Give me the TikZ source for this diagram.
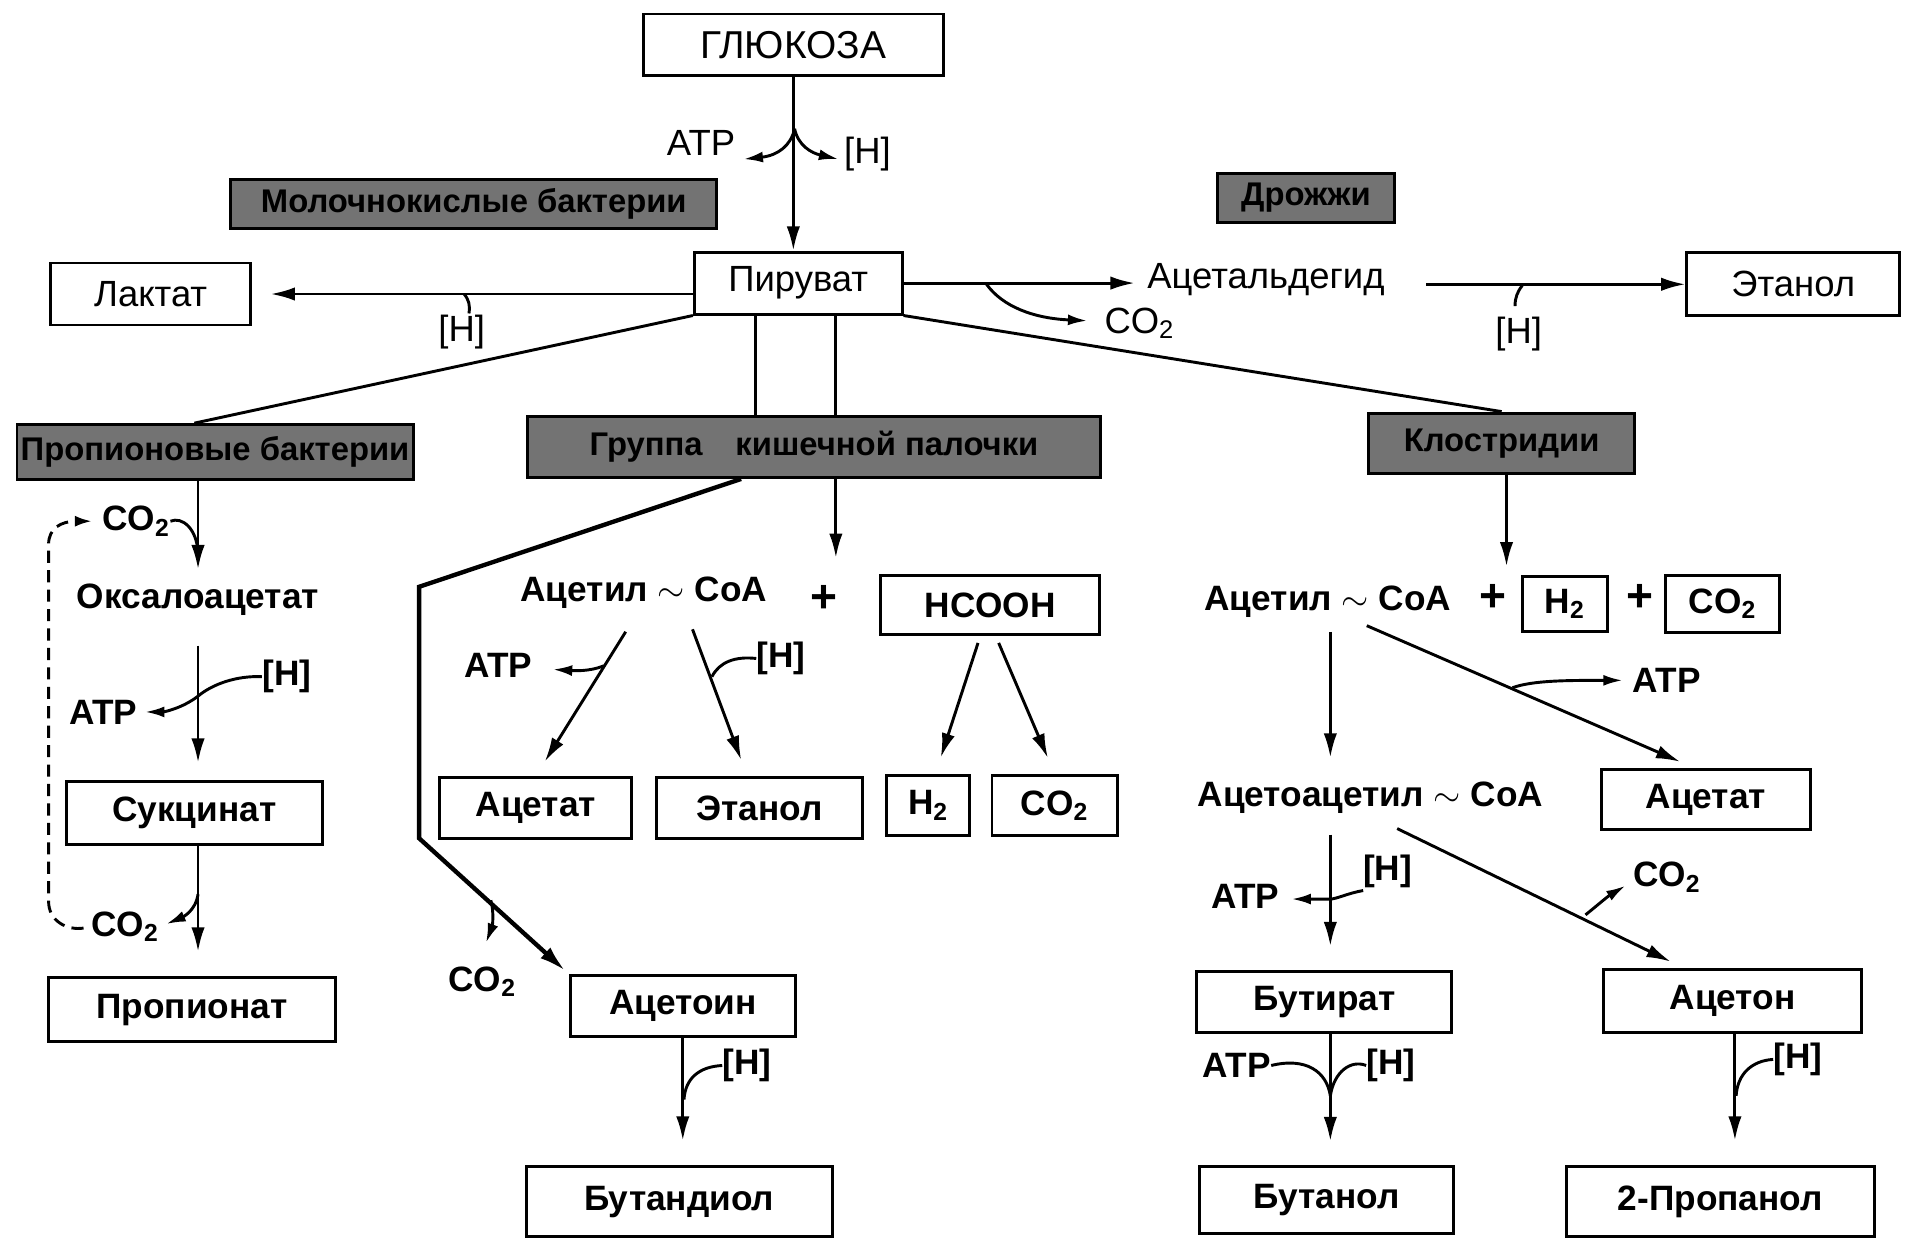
\documentclass[tikz,border=0pt]{standalone}
\usepackage{fontspec}
\setmainfont{Liberation Sans}
\usetikzlibrary{arrows.meta,calc}
\begin{document}
\begin{tikzpicture}[x=0.5pt,y=-0.5pt,
 every node/.style={inner sep=0pt, font=\fontsize{14.5}{17}\selectfont\bfseries},
 rg/.style={font=\fontsize{15}{17}\selectfont},
 dkf/.style={font=\fontsize{13.5}{16}\selectfont\bfseries},
 pl/.style={font=\fontsize{19}{20}\selectfont\bfseries},
 bx/.style 2 args={draw, line width=1.2pt, minimum width=#1*0.5pt, minimum height=#2*0.5pt},
 dk/.style 2 args={bx={#1}{#2}, fill=black!55, dkf},
 arr/.style={-{Latex[length=10pt,width=5.5pt]}, line width=1.2pt},
 sarr/.style={-{Latex[length=8pt,width=4.5pt]}, line width=1.2pt},
 ln/.style={line width=1.2pt},
 thk/.style={line width=1.8pt}]
\useasboundingbox (0,0) rectangle (1568,1021);

% ---------- top part ----------
\node[bx={247}{51}, font=\fontsize{16}{18}\selectfont] (glc) at (653,37) {ГЛЮКОЗА};
\node[bx={171}{51}, rg] (pyr) at (657,233) {Пируват};
\node[bx={165}{51}, rg] (lac) at (124,242) {Лактат};
\node[dk={400}{40}] (lab) at (390,168) {Молочнокислые бактерии};
\node[dk={146}{40}] (yst) at (1075,163) {Дрожжи};
\node[rg] (acald) at (1042,230) {Ацетальдегид};
\node[bx={175}{52}, rg] (eth1) at (1476,234) {Этанол};
\node[rg] (atp0) at (577,118) {ATP};
\node[rg] (h0) at (714,127) {[H]};
\node[rg] (h1) at (380,273) {[H]};
\node[rg] (co2p) at (938,266) {CO\textsubscript{2}};
\node[rg] (h2) at (1250,275) {[H]};

% ---------- groups ----------
\node[dk={326}{45}] (prop) at (177,372) {Пропионовые бактерии};
\node[dk={471}{50}] (ecoli) at (670,368) {Группа\quad кишечной палочки};
\node[dk={219}{50}] (clos) at (1236,365) {Клостридии};

% ---------- propionic ----------
\node (oxa) at (163,494) {Оксалоацетат};
\node (co2u) at (112,429) {CO\textsubscript{2}};
\node (atp1) at (85,586) {ATP};
\node (h3) at (236,557) {[H]};
\node[bx={211}{52}] (succ) at (160,669) {Сукцинат};
\node (co2d) at (103,763) {CO\textsubscript{2}};
\node[bx={236}{53}] (propn) at (158,831) {Пропионат};

% ---------- E. coli ----------
\node (accoa1) at (530,488) {Ацетил $\sim$ CoA};
\node[pl] (plus1) at (678,493) {+};
\node[bx={180}{48}] (hcooh) at (815,498) {HCOOH};
\node (atp2) at (410,548) {ATP};
\node (h4) at (643,542) {[H]};
\node[bx={158}{50}] (acet1) at (441,665) {Ацетат};
\node[bx={170}{50}] (eth2) at (625,665) {Этанол};
\node[bx={68}{50}] (h2a) at (764,663) {H\textsubscript{2}};
\node[bx={103}{50}] (co2a) at (868,663) {CO\textsubscript{2}};
\node (co2e) at (397,808) {CO\textsubscript{2}};
\node[bx={185}{50}] (acetoin) at (562,828) {Ацетоин};
\node (h5) at (615,877) {[H]};
\node[bx={252}{58}] (butd) at (559,989) {Бутандиол};

% ---------- Clostridia ----------
\node (accoa2) at (1093,495) {Ацетил $\sim$ CoA};
\node[pl] (plus2) at (1229,492) {+};
\node[bx={70}{45}] (h2b) at (1288,497) {H\textsubscript{2}};
\node[pl] (plus3) at (1350,492) {+};
\node[bx={94}{47}] (co2b) at (1418,497) {CO\textsubscript{2}};
\node (atp3) at (1372,560) {ATP};
\node[bx={172}{50}] (acet2) at (1404,658) {Ацетат};
\node (aacoa) at (1128,657) {Ацетоацетил $\sim$ CoA};
\node (h6) at (1142,717) {[H]};
\node (atp4) at (1025,738) {ATP};
\node (co2f) at (1372,722) {CO\textsubscript{2}};
\node[bx={210}{50}] (butyr) at (1090,825) {Бутират};
\node[bx={213}{52}] (aceton) at (1426,824) {Ацетон};
\node (atp5) at (1018,877) {ATP};
\node (h7) at (1145,877) {[H]};
\node (h8) at (1480,872) {[H]};
\node[bx={209}{55}] (butol) at (1092,988) {Бутанол};
\node[bx={253}{58}] (prol) at (1416,989) {2-Пропанол};

% ---------- connectors: top ----------
\draw[arr] (glc.south) -- (glc.south |- pyr.north);
\coordinate (gb) at (654,106);
\coordinate (gatp) at (612,131);
\coordinate (gh) at (690,131);
\draw[sarr] (gb) .. controls (651,120) and (640,128) .. (gatp);
\draw[sarr] (gb) .. controls (657,120) and (668,126) .. (gh);

\draw[arr, shorten >=7.5pt] (pyr.west |- lac.east) -- (lac.east);
\draw[ln] (382,242) .. controls (386,247) and (387,251) .. (386,258);
\draw[ln] (pyr.south west) -- ($(prop.north)+(-17,0)$);
\coordinate (pa) at ($(pyr.south)+(-35,0)$);
\coordinate (pb) at ($(pyr.south)+(31,0)$);
\draw[ln] (pa) -- (pa |- ecoli.north);
\draw[ln] (pb) -- (pb |- ecoli.north);
\draw[ln] (pyr.south east) -- (clos.north);

\draw[arr, shorten >=5pt] (pyr.east) -- (acald.west |- pyr.east);
\draw[sarr] (812,234) .. controls (825,252) and (850,262) .. (895,264);
\draw[arr, shorten <=17pt] (eth1.west -| acald.east) -- (eth1.west);
\draw[ln] (1253,235) .. controls (1249,240) and (1247,245) .. (1247,252);

% ---------- connectors: propionic ----------
\draw[arr, shorten >=6pt] (prop.south -| oxa.north) -- (oxa.north);
\draw[ln] (co2u.east) .. controls (150,425) and (162,435) .. (163,455);
\draw[arr, shorten <=12pt, shorten >=7pt] (oxa.south) -- (oxa.south |- succ.north);
\draw[sarr, shorten >=3pt] (h3.west) .. controls (195,556) and (175,563) .. (163,573) .. controls (150,583) and (135,586) .. (atp1.east);
\draw[arr, shorten >=10pt] ($(succ.south)+(3,0)$) -- ($(succ.south |- propn.north)+(3,0)$);
\draw[sarr, shorten >=3pt] (163,736) .. controls (161,750) and (150,755) .. (co2d.east);
\draw[ln, dash pattern=on 5pt off 3pt, -{Latex[length=7pt,width=4.5pt]}, shorten <=3pt, shorten >=4pt]
  (co2d.west) .. controls (55,766) and (40,758) .. (40,742) -- (40,448) .. controls (40,435) and (50,429) .. (co2u.west);

% ---------- connectors: E. coli ----------
\draw[thk, -{Latex[length=11pt,width=6pt]}, shorten >=2pt] ($(ecoli.south)+(-60,0)$) -- (345,483) -- (345,690) -- (acetoin.north west);
\draw[sarr] (404,741) .. controls (407,752) and (405,763) .. (400,776);
\draw[arr] ($(ecoli.south)+(18,0)$) -- ++(0,65);
\coordinate (a1) at (515,520);
\coordinate (a2) at (570,518);
\draw[arr, shorten >=7pt] (a1) -- (acet1.north);
\draw[sarr] (497,548) .. controls (485,553) and (472,552) .. (455,551);
\draw[arr, shorten >=7pt] (a2) -- ($(eth2.north)+(-10,0)$);
\draw[ln] (586,557) .. controls (592,545) and (605,540) .. (h4.west);
\draw[arr, shorten >=7pt] ($(hcooh.south)+(-10,6)$) -- ($(h2a.north)+(6,0)$);
\draw[arr, shorten >=7pt] ($(hcooh.south)+(7,6)$) -- (co2a.north);
\draw[arr, shorten >=10pt] (acetoin.south) -- (acetoin.south |- butd.north);
\draw[ln] (h5.west) .. controls (575,878) and (564,888) .. (563,905);

% ---------- connectors: Clostridia ----------
\draw[arr] ($(clos.south)+(4,0)$) -- ++(0,75);
\coordinate (c1) at (1095,520);
\draw[arr, shorten >=10pt] (c1) -- (c1 |- aacoa.north);
\coordinate (c2) at (1125,515);
\draw[arr, shorten >=6pt] (c2) -- ($(acet2.north)+(-10,0)$);
\draw[sarr, shorten >=4pt] (1245,566) .. controls (1262,560) and (1290,560) .. (atp3.west);
\coordinate (c3) at (1095,687);
\draw[arr, shorten >=10pt] (c3) -- (c3 |- butyr.north);
\draw[sarr] (1122,733) .. controls (1110,735) and (1100,740) .. (1095,740) -- (1063,740);
\coordinate (c4) at (1150,682);
\draw[arr, shorten >=6pt] (c4) -- ($(aceton.north)+(-40,0)$);
\draw[sarr] (1305,753) .. controls (1315,745) and (1323,738) .. (1338,729);
\draw[arr, shorten >=10pt] ($(butyr.south)+(5,0)$) -- ($(butol.north)+(3,0)$);
\draw[ln] (atp5.east) .. controls (1075,870) and (1092,882) .. (1095,902);
\draw[ln] (h7.west) .. controls (1112,872) and (1098,882) .. (1095,902);
\draw[arr, shorten >=10pt] ($(aceton.south)+(2,0)$) -- ($(prol.north)+(12,0)$);
\draw[ln] (h8.west) .. controls (1442,873) and (1430,884) .. (1429,902);
\end{tikzpicture}
\end{document}
